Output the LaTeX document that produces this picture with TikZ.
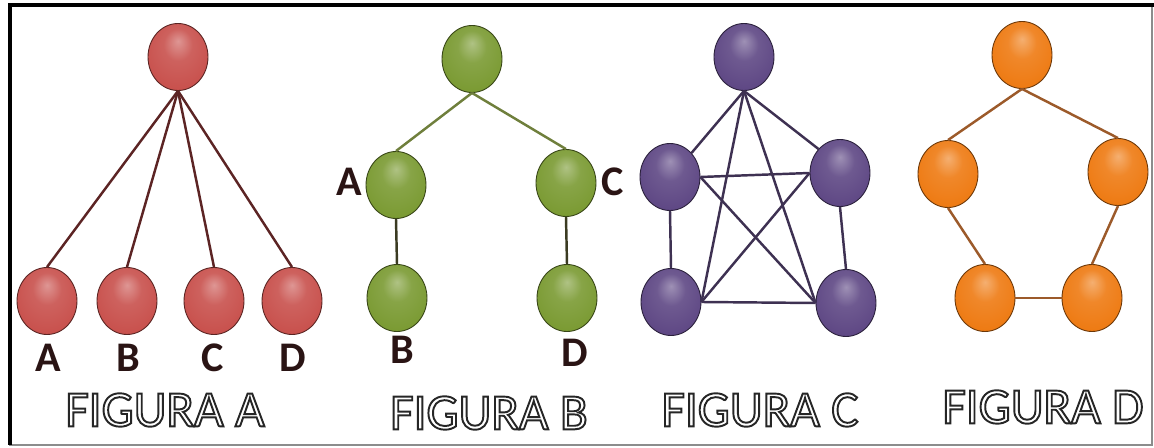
\documentclass[tikz,border=0pt]{standalone}
\usepackage{fontspec}
\setmainfont{Carlito}
\usetikzlibrary{shapes.geometric}
\definecolor{figred}{HTML}{C8504C}
\definecolor{figgreen}{HTML}{7A9A32}
\definecolor{figpurple}{HTML}{5E4784}
\definecolor{figorange}{HTML}{EE7A12}
\definecolor{linered}{HTML}{5C2424}
\definecolor{linegreen}{HTML}{6F7F3C}
\definecolor{linegreendk}{HTML}{3B3B22}
\definecolor{linepurple}{HTML}{3E3152}
\definecolor{lineorange}{HTML}{9C5A2A}
\definecolor{letterdark}{HTML}{2A1414}
\makeatletter
\pgfdeclareradialshading[tikz@ball]{gloss}{\pgfpoint{0bp}{12bp}}{%
  color(0bp)=(tikz@ball!60!white);
  color(12bp)=(tikz@ball!90!white);
  color(30bp)=(tikz@ball);
  color(43bp)=(tikz@ball!78!black);
  color(50bp)=(tikz@ball!50!black)}
\makeatother
\newcommand{\figlabel}[1]{\color{white}\special{pdf:literal direct 2 Tr 1.1 w 0.15 0.15 0.15 RG}#1\special{pdf:literal direct 0 Tr}}

\begin{document}
\begin{tikzpicture}[x=0.02cm,y=-0.02cm,
  knot/.style={ellipse,inner sep=0pt,minimum width=1.2cm,minimum height=1.34cm,ball color=#1,shading=gloss,draw=#1!45!black,line width=0.5pt},
  lettre/.style={font=\fontsize{24}{26}\selectfont\bfseries,text=letterdark},
  caption/.style={font=\fontsize{29}{32}\selectfont}]
\useasboundingbox (0,0) rectangle (1154,448);
\draw[black!45,line width=0.8pt] (10,5) rectangle (1152,445);
\draw[black,line width=2pt] (1154,5) -- (10,5) -- (10,445);
\node[knot=figred] (ra) at (178,57) {};
\node[knot=figred] (ra1) at (47,301) {};
\node[knot=figred] (ra2) at (127,301) {};
\node[knot=figred] (ra3) at (214,301) {};
\node[knot=figred] (ra4) at (292,301) {};
\draw[linered,line width=1.4pt] (ra.south) -- (ra1.north);
\draw[linered,line width=1.4pt] (ra.south) -- (ra2.north);
\draw[linered,line width=1.4pt] (ra.south) -- (ra3.north);
\draw[linered,line width=1.4pt] (ra.south) -- (ra4.north);
\node[lettre] (la1) at (48,358) {A};
\node[lettre] (la2) at (128,358) {B};
\node[lettre] (la3) at (213,358) {C};
\node[lettre] (la4) at (293,358) {D};
\node[caption] (capa) at (165,410) {\figlabel{FIGURA A}};
\node[knot=figgreen] (gb) at (472,59) {};
\node[knot=figgreen] (gb1) at (396,185) {};
\node[knot=figgreen] (gb2) at (397,298) {};
\node[knot=figgreen] (gb3) at (566,183) {};
\node[knot=figgreen] (gb4) at (567,298) {};
\draw[linegreen,line width=1.4pt] (gb.south) -- (gb1.north);
\draw[linegreen,line width=1.4pt] (gb.south) -- (gb3.north);
\draw[linegreendk,line width=1.4pt] (gb1.south) -- (gb2.north);
\draw[linegreendk,line width=1.4pt] (gb3.south) -- (gb4.north);
\node[lettre] (lb1) at (349,182) {A};
\node[lettre] (lb2) at (402,350) {B};
\node[lettre] (lb3) at (613,182) {C};
\node[lettre] (lb4) at (575,353) {D};
\node[caption] (capb) at (489,413) {\figlabel{FIGURA B}};
\node[knot=figpurple] (pc) at (744,57) {};
\node[knot=figpurple] (pc1) at (670,177) {};
\node[knot=figpurple] (pc2) at (840,173) {};
\node[knot=figpurple] (pc3) at (671,302) {};
\node[knot=figpurple] (pc4) at (846,303) {};
\draw[linepurple,line width=1.4pt] (pc.south) -- (pc1.north east);
\draw[linepurple,line width=1.4pt] (pc.south) -- (pc2.north west);
\draw[linepurple,line width=1.4pt] (pc.south) -- (pc3.east);
\draw[linepurple,line width=1.4pt] (pc.south) -- (pc4.west);
\draw[linepurple,line width=1.4pt] (pc1.east) -- (pc2.west);
\draw[linepurple,line width=1.4pt] (pc1.east) -- (pc4.west);
\draw[linepurple,line width=1.4pt] (pc2.west) -- (pc3.east);
\draw[linepurple,line width=1.4pt] (pc1.south) -- (pc3.north);
\draw[linepurple,line width=1.4pt] (pc2.south) -- (pc4.north);
\draw[linepurple,line width=1.4pt] (pc3.east) -- (pc4.west);
\node[caption] (capc) at (760,410) {\figlabel{FIGURA C}};
\node[knot=figorange] (od) at (1022,55) {};
\node[knot=figorange] (od1) at (948,174) {};
\node[knot=figorange] (od2) at (1118,172) {};
\node[knot=figorange] (od3) at (985,298) {};
\node[knot=figorange] (od4) at (1092,298) {};
\draw[lineorange,line width=1.4pt] (od.south) -- (od1.north);
\draw[lineorange,line width=1.4pt] (od.south) -- (od2.north);
\draw[lineorange,line width=1.4pt] (od1.south) -- (od3.north);
\draw[lineorange,line width=1.4pt] (od2.south) -- (od4.north);
\draw[lineorange,line width=1.4pt] (od3.east) -- (od4.west);
\node[caption] (capd) at (1043,407) {\figlabel{FIGURA D}};
\end{tikzpicture}
\end{document}
